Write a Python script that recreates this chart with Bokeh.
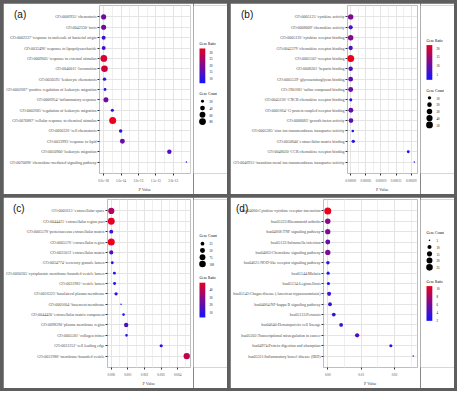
import numpy as np
from bokeh.plotting import figure
from bokeh.models import ColumnDataSource, FactorRange, Range1d, FixedTicker, LinearColorMapper, Div
from bokeh.layouts import row, column
from bokeh.embed import file_html
from bokeh.resources import INLINE
from bokeh.core.properties import value

# ---------------- data ----------------
a_terms = [
    "GO:0006935~chemotaxis",
    "GO:0042330~taxis",
    "GO:0002237~response to molecule of bacterial origin",
    "GO:0032496~response to lipopolysaccharide",
    "GO:0009605~response to external stimulus",
    "GO:0040011~locomotion",
    "GO:0030595~leukocyte chemotaxis",
    "GO:0002687~positive regulation of leukocyte migration",
    "GO:0006954~inflammatory response",
    "GO:0002685~regulation of leukocyte migration",
    "GO:0070887~cellular response to chemical stimulus",
    "GO:0060326~cell chemotaxis",
    "GO:0033993~response to lipid",
    "GO:0050900~leukocyte migration",
    "GO:0070098~chemokine-mediated signaling pathway",
]
a_pvalue = [1.2e-19, 1.3e-19, 4.0e-17, 2.1e-16, 5.3e-16, 2.4e-15, 2.6e-15, 4.0e-15,
            6.6e-15, 2.5e-14, 2.6e-14, 4.9e-14, 5.4e-14, 1.89e-13, 2.38e-13]
a_count = [46, 46, 30, 29, 80, 76, 24, 19, 44, 21, 86, 24, 43, 35, 15]
a_ratio = [17.5, 17.5, 11.5, 11.2, 30.5, 29.0, 9.2, 7.3, 16.8, 8.0, 32.7, 9.2, 16.5, 13.4, 5.7]
a_xticks = [0.0, 5e-14, 1e-13, 1.5e-13, 2e-13, 2.5e-13]
a_xlabels = ["0.0e+00", "5.0e-14", "1.0e-13", "1.5e-13", "2.0e-13", "2.5e-13"]
a_ratio_ticks = [10, 15, 20, 25, 30]
a_count_ticks = [20, 40, 60, 80]

b_terms = [
    "GO:0005125~cytokine activity",
    "GO:0008009~chemokine activity",
    "GO:0005126~cytokine receptor binding",
    "GO:0042379~chemokine receptor binding",
    "GO:0005102~receptor binding",
    "GO:0008201~heparin binding",
    "GO:0005539~glycosaminoglycan binding",
    "GO:1901681~sulfur compound binding",
    "GO:0045236~CXCR chemokine receptor binding",
    "GO:0001664~G-protein coupled receptor binding",
    "GO:0008083~growth factor activity",
    "GO:0005385~zinc ion transmembrane transporter activity",
    "GO:0050840~extracellular matrix binding",
    "GO:0048020~CCR chemokine receptor binding",
    "GO:0046915~transition metal ion transmembrane transporter activity",
]
b_pvalue = [2.0e-12, 5.0e-12, 1.0e-11, 2.0e-11, 8.0e-11, 2.0e-9, 4.0e-9, 1.0e-8,
            3.0e-7, 6.0e-7, 1.0e-6, 7.0e-6, 8.5e-6, 1.9e-4, 2.1e-4]
b_count = [29, 16, 30, 17, 54, 18, 22, 24, 8, 23, 21, 6, 10, 7, 4]
b_ratio = [11.6, 6.4, 12.0, 6.8, 21.6, 7.2, 8.8, 9.6, 3.2, 9.2, 8.4, 2.4, 4.0, 2.8, 1.7]
b_xticks = [0.0, 5e-5, 1e-4, 1.5e-4, 2e-4]
b_xlabels = ["0.00000", "0.00005", "0.00010", "0.00015", "0.00020"]
b_ratio_ticks = [5, 10, 15, 20]
b_count_ticks = [10, 20, 30, 40, 50]

c_terms = [
    "GO:0005615~extracellular space",
    "GO:0044421~extracellular region part",
    "GO:0005578~proteinaceous extracellular matrix",
    "GO:0005576~extracellular region",
    "GO:0031012~extracellular matrix",
    "GO:0034774~secretory granule lumen",
    "GO:0060205~cytoplasmic membrane-bounded vesicle lumen",
    "GO:0031983~vesicle lumen",
    "GO:0016323~basolateral plasma membrane",
    "GO:0005604~basement membrane",
    "GO:0044420~extracellular matrix component",
    "GO:0098590~plasma membrane region",
    "GO:0005581~collagen trimer",
    "GO:0031252~cell leading edge",
    "GO:0031988~membrane-bounded vesicle",
]
c_pvalue = [1e-30, 1e-28, 1e-20, 1e-19, 1e-18, 6e-5, 1.9e-4, 2.0e-4, 2.9e-4, 5.9e-4,
            7.4e-4, 9.0e-4, 9.2e-4, 3.01e-3, 4.55e-3]
c_count = [85, 112, 28, 116, 31, 12, 14, 14, 18, 6, 10, 36, 11, 16, 92]
c_ratio = [35.5, 46.7, 11.7, 48.5, 12.9, 5.0, 5.8, 5.8, 7.5, 2.6, 4.2, 15.0, 4.6, 6.7, 38.3]
c_xticks = [0.0, 0.001, 0.002, 0.003, 0.004]
c_xlabels = ["0.000", "0.001", "0.002", "0.003", "0.004"]
c_ratio_ticks = [10, 20, 30, 40]
c_count_ticks = [25, 50, 75, 100]

d_terms = [
    "hsa04060:Cytokine-cytokine receptor interaction",
    "hsa05323:Rheumatoid arthritis",
    "hsa04668:TNF signaling pathway",
    "hsa05132:Salmonella infection",
    "hsa04062:Chemokine signaling pathway",
    "hsa04621:NOD-like receptor signaling pathway",
    "hsa05144:Malaria",
    "hsa05134:Legionellosis",
    "hsa05142:Chagas disease (American trypanosomiasis)",
    "hsa04064:NF-kappa B signaling pathway",
    "hsa05133:Pertussis",
    "hsa04640:Hematopoietic cell lineage",
    "hsa05202:Transcriptional misregulation in cancer",
    "hsa04974:Protein digestion and absorption",
    "hsa05321:Inflammatory bowel disease (IBD)",
]
d_pvalue = [1e-12, 1e-9, 1e-8, 1e-7, 2e-6, 4e-5, 1.1e-4, 2.0e-4, 4.0e-4, 6.6e-4,
            1.8e-3, 4.0e-3, 8.8e-3, 1.89e-2, 2.56e-2]
d_count = [28, 17, 16, 14, 16, 8, 7, 7, 10, 9, 9, 9, 11, 7, 5]
d_ratio = [10.4, 6.3, 6.0, 5.2, 6.0, 3.0, 2.6, 2.6, 3.7, 3.3, 3.3, 3.4, 4.1, 2.6, 1.85]
d_xticks = [0.0, 0.01, 0.02]
d_xlabels = ["0.00", "0.01", "0.02"]
d_ratio_ticks = [2, 4, 6, 8, 10]
d_count_ticks = [5, 10, 15, 20, 25]

# ---------------- styling helpers ----------------
SERIF = "Liberation Serif"
MAIN_W, LEG_W, PANEL_H = 190, 34, 191


def rgb_palette(c0, c1, n=256):
    c0, c1 = np.array(c0, float), np.array(c1, float)
    out = []
    for k in range(n):
        c = c0 + (c1 - c0) * k / (n - 1)
        out.append("#%02x%02x%02x" % tuple(int(round(v)) for v in c))
    return out


PAL = rgb_palette((20, 20, 255), (235, 0, 30))


def size_map(vals, vmin, vmax, smin=1.5, smax=7.0):
    t = np.clip((np.asarray(vals, float) - vmin) / (vmax - vmin), 0, 1)
    return smin + (smax - smin) * np.sqrt(t)


def make_panel(letter, terms, pvals, counts, ratios, xticks, xlabels,
               ratio_ticks, count_ticks, ratio_first, letter_dx):
    n = len(terms)
    lo_r, hi_r = min(ratios), max(ratios)
    mapper = LinearColorMapper(palette=PAL, low=lo_r, high=hi_r)
    cmin, cmax = min(counts), max(counts)
    pmin, pmax = min(pvals), max(pvals)
    span = pmax - pmin
    p = figure(width=MAIN_W, height=PANEL_H,
               x_range=Range1d(pmin - 0.05 * span, pmax + 0.05 * span),
               y_range=FactorRange(factors=list(reversed(terms)), range_padding=1.2 / n),
               output_backend="svg", toolbar_location=None,
               min_border_left=2, min_border_right=3, min_border_top=2, min_border_bottom=1)
    src = ColumnDataSource(dict(term=terms, p=pvals, size=size_map(counts, cmin, cmax), ratio=ratios))
    p.scatter(x="p", y="term", size="size", source=src,
              fill_color={"field": "ratio", "transform": mapper}, line_color=None)
    step = xticks[1] - xticks[0]
    minors = [t + step / 2 for t in xticks]
    p.xaxis.ticker = FixedTicker(ticks=xticks, minor_ticks=minors)
    p.xaxis.major_label_overrides = {t: l for t, l in zip(xticks, xlabels)}
    p.outline_line_color = "#BEBEBE"
    p.xgrid.grid_line_color = "#E4E4E4"
    p.xgrid.minor_grid_line_color = "#F0F0F0"
    p.ygrid.grid_line_color = "#E4E4E4"
    p.axis.axis_line_color = None
    p.axis.major_tick_line_color = "#333333"
    p.axis.major_tick_out = 2
    p.axis.major_tick_in = 0
    p.axis.minor_tick_line_color = None
    p.axis.major_label_text_font = SERIF
    p.axis.major_label_text_color = "#4D4D4D"
    p.axis.major_label_standoff = 1
    p.yaxis.major_label_text_font_size = "4px"
    p.xaxis.major_label_text_font_size = "3.3px"
    p.xaxis.axis_label = "P Value"
    p.xaxis.axis_label_text_font = SERIF
    p.xaxis.axis_label_text_font_style = "normal"
    p.xaxis.axis_label_text_font_size = "4.2px"
    p.xaxis.axis_label_standoff = 2

    # legend figure
    lg = figure(width=LEG_W, height=PANEL_H, x_range=Range1d(0, LEG_W), y_range=Range1d(0, PANEL_H),
                output_backend="svg", toolbar_location=None, min_border=0,
                x_axis_location=None, y_axis_location=None)
    lg.grid.visible = False
    lg.outline_line_color = None
    BAR_H, KEY = 39.5, 7.7
    nk = len(count_ticks)
    if ratio_first:
        total = 4.8 + BAR_H + 12.3 + 8.2 + KEY * (nk - 1)
        r_t = 88 - total / 2
        bar_top = r_t + 4.8
        c_t = bar_top + BAR_H + 12.3
        dot0 = c_t + 8.2
    else:
        total = 8.3 + KEY * (nk - 1) + 16.5 + 4.8 + BAR_H
        c_t = 88 - total / 2
        dot0 = c_t + 8.3
        r_t = dot0 + KEY * (nk - 1) + 16.5
        bar_top = r_t + 4.8

    def Y(v):
        return PANEL_H - v

    tfont = value(SERIF)
    lg.text(x=[6], y=[Y(r_t)], text=["Gene Ratio"], text_font=tfont,
            text_font_size=value("3.6px"), text_baseline="middle", text_color="#000000")
    yb = Y(bar_top + BAR_H)
    arr = np.linspace(lo_r, hi_r, 120).reshape(120, 1)
    lg.image(image=[arr], x=6, y=yb, dw=5.8, dh=BAR_H, color_mapper=mapper)
    ty = [yb + (v - lo_r) / (hi_r - lo_r) * BAR_H for v in ratio_ticks]
    lg.text(x=[16] * len(ratio_ticks), y=ty, text=[str(v) for v in ratio_ticks], text_font=tfont,
            text_font_size=value("3px"), text_baseline="middle", text_color="#000000")
    lg.text(x=[6], y=[Y(c_t)], text=["Gene Count"], text_font=tfont,
            text_font_size=value("3.6px"), text_baseline="middle", text_color="#000000")
    ky = [Y(dot0 + KEY * i) for i in range(nk)]
    lg.scatter(x=[9] * nk, y=ky, size=size_map(count_ticks, cmin, cmax),
               fill_color="#000000", line_color=None)
    lg.text(x=[16] * nk, y=ky, text=[str(v) for v in count_ticks], text_font=tfont,
            text_font_size=value("3px"), text_baseline="middle", text_color="#000000")

    body = row(p, lg, spacing=0)
    tag = Div(text=letter, styles={"position": "absolute", "left": "%dpx" % letter_dx, "top": "2px",
                                   "font-family": "Liberation Sans", "font-size": "10px",
                                   "color": "#111111", "z-index": "5", "line-height": "1"})
    return column(body, tag, spacing=0)


pa = make_panel("(a)", a_terms, a_pvalue, a_count, a_ratio, a_xticks, a_xlabels,
                a_ratio_ticks, a_count_ticks, True, 6)
pb = make_panel("(b)", b_terms, b_pvalue, b_count, b_ratio, b_xticks, b_xlabels,
                b_ratio_ticks, b_count_ticks, True, 6)
pc = make_panel("(c)", c_terms, c_pvalue, c_count, c_ratio, c_xticks, c_xlabels,
                c_ratio_ticks, c_count_ticks, False, 5)
pd_ = make_panel("(d)", d_terms, d_pvalue, d_count, d_ratio, d_xticks, d_xlabels,
                 d_ratio_ticks, d_count_ticks, False, 1)

layout = column(row(pa, pb, spacing=3), row(pc, pd_, spacing=3), spacing=3,
                styles={"background-color": "#5e5e5e", "padding": "3px"})

open("out.html", "w").write(file_html(layout, INLINE))
